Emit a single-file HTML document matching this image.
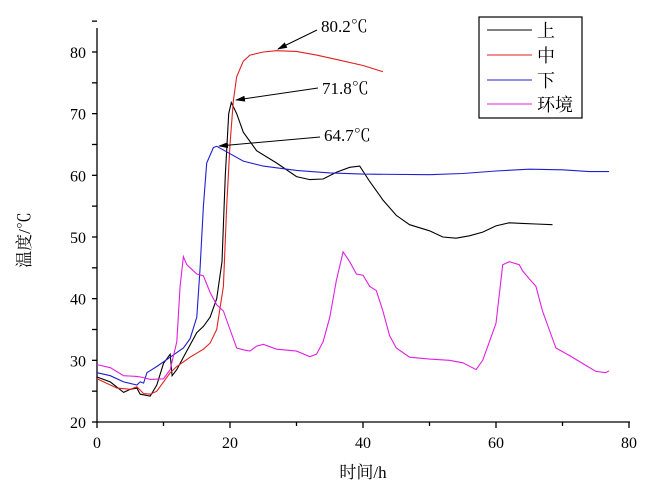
<!DOCTYPE html><html><head><meta charset="utf-8"><style>body{margin:0;background:#fff}svg{display:block}text{font-family:"Liberation Serif","Noto Serif CJK SC",serif;fill:#000}</style></head><body>
<svg width="659" height="500" xmlns="http://www.w3.org/2000/svg">
<defs><marker id="a" markerWidth="10" markerHeight="6" refX="9" refY="3" orient="auto"><path d="M0,0L10,3L0,6z" fill="#000"/></marker></defs>
<g id="ax" stroke="#000" stroke-width="1.3" fill="none"></g>
<g id="s" fill="none" stroke-width="1.1"></g>
<g font-size="16" id="lab"></g>
<text x="363" y="478" font-size="17" text-anchor="middle">时间/h</text>
<text transform="translate(30,240) rotate(-90)" font-size="17" text-anchor="middle">温度/℃</text>
<line x1="317" y1="30" x2="278" y2="49" stroke="#000" marker-end="url(#a)"/>
<line x1="318" y1="88" x2="236" y2="100" stroke="#000" marker-end="url(#a)"/>
<line x1="320" y1="137" x2="219" y2="146" stroke="#000" marker-end="url(#a)"/>
<text x="321" y="32" font-size="17">80.2℃</text>
<text x="322" y="94" font-size="17">71.8℃</text>
<text x="324" y="141" font-size="17">64.7℃</text>
<rect x="479" y="17" width="103" height="101" fill="#fff" stroke="#000" stroke-width="1.2"/>
<line x1="487" y1="30" x2="532" y2="30" stroke="#000"/><text x="537" y="37" font-size="18">上</text>
<line x1="487" y1="55" x2="532" y2="55" stroke="#e02020"/><text x="537" y="62" font-size="18">中</text>
<line x1="487" y1="80" x2="532" y2="80" stroke="#2020d0"/><text x="537" y="87" font-size="18">下</text>
<line x1="487" y1="104" x2="532" y2="104" stroke="#e020e0"/><text x="537" y="111" font-size="18">环境</text>
</svg>
<script>
const X=h=>97+h*6.65,Y=t=>422-(t-20)*6.167;
let ax=document.getElementById('ax'),lab=document.getElementById('lab'),h='';
h+='<path d="M97,28V422H630"/>';
for(let t=20;t<=85;t+=5)h+='<line x1="92" x2="97" y1="'+Y(t)+'" y2="'+Y(t)+'"/>';
for(let x=0;x<=80;x+=10)h+='<line x1="'+X(x)+'" x2="'+X(x)+'" y1="422" y2="'+(x%20?426:428)+'"/>';
ax.innerHTML=h;let l='';
for(let t=20;t<=80;t+=10)l+='<text x="86" y="'+(Y(t)+6)+'" text-anchor="end">'+t+'</text>';
for(let x=0;x<=80;x+=20)l+='<text x="'+X(x)+'" y="448" text-anchor="middle">'+x+'</text>';
lab.innerHTML=l;
const D={"#000":[0,27.3,2,26.5,4,24.8,5,25.3,6,25.5,6.5,24.5,7.5,24.3,8,24.2,9,26,10,29.5,11,31,11.3,27.5,12,28.5,13,30.5,14,32.5,15,34.5,16,35.5,17,37,18,40,18.8,46,19.3,60,19.8,70,20.2,71.8,21,70,22,67,24,64,27,62,30,59.8,32,59.3,34,59.4,36,60.5,38,61.3,39.5,61.5,41,59,43,56,45,53.5,47,52,50,51,52,50,54,49.8,56,50.2,58,50.8,60,51.8,62,52.3,64,52.2,66,52.1,68.5,52],
"#e02020":[0,27,3,25.5,5,25.3,6,25.7,7,24.6,8,24.5,9,25,10,26.5,11,28,12,29,14,30.5,16,31.8,17,32.8,18,35,19,42,19.5,55,20,65,20.5,72,21,76,22,78.5,23,79.5,25,80,27,80.2,30,80.1,33,79.5,36,78.8,40,77.8,43,76.8],
"#2020d0":[0,28,2,27.5,4,26.5,6,26,6.5,26.5,7,26.3,7.5,28,9,29,11,30.5,13,32,14,33.5,15,37,15.5,45,16,55,16.5,62,17.5,64.5,18,64.7,20,63.5,22,62.3,25,61.5,30,60.8,35,60.4,40,60.2,50,60.1,55,60.3,60,60.7,65,61,70,60.9,74,60.6,77,60.6],
"#e020e0":[0,29.3,2,28.8,4,27.5,6,27.4,7,27.2,8,26.9,10,27,11,28.5,12,33,12.5,42,13,46.8,13.5,45.5,14,45,15,44,16,43.7,17,41,18,39,19,38,20,35,21,32,22,31.7,23,31.5,24,32.3,25,32.6,27,31.8,30,31.5,32,30.6,33,31,34,33,35,37,36,43,37,47.6,38,46,39,44,40,43.8,41,42,42,41.3,43,38,44,34,45,32,47,30.5,50,30.2,53,30,55,29.6,57,28.5,58,30,59,33,60,36,61,45.5,62,46,63.5,45.5,64,44.5,65,43.2,66,42,67,38,68,35,69,32,71,30.8,73,29.5,75,28.2,76.5,28,77,28.3]};
let s='';for(const c in D){let d=D[c],p='';for(let i=0;i<d.length;i+=2)p+=(i?'L':'M')+X(d[i]).toFixed(1)+','+Y(d[i+1]).toFixed(1);s+='<path d="'+p+'" stroke="'+c+'"/>';}
document.getElementById('s').innerHTML=s;
</script>
</body></html>
